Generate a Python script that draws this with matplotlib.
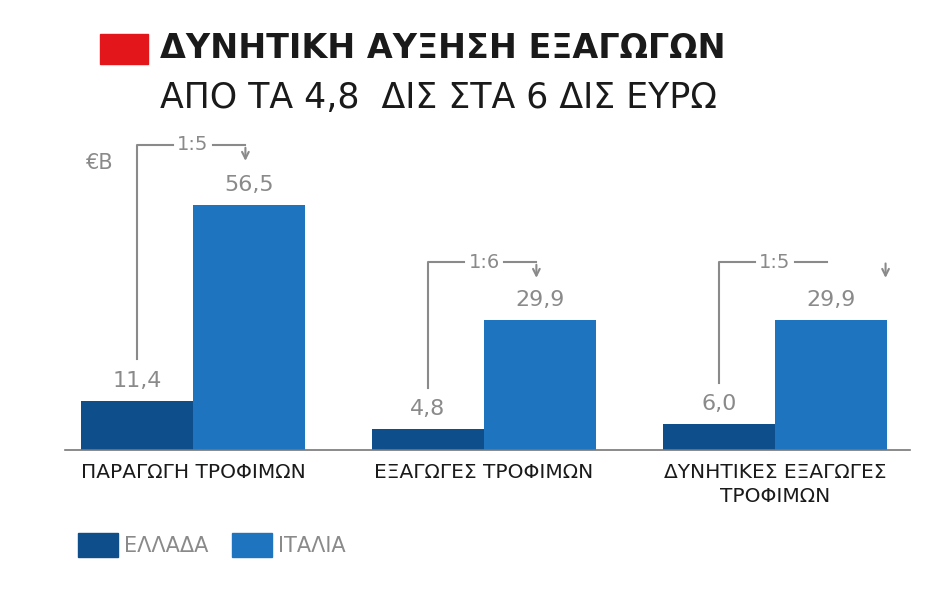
import matplotlib.pyplot as plt
from matplotlib.patches import Rectangle

categories = ['ΠΑΡΑΓΩΓΗ ΤΡΟΦΙΜΩΝ', 'ΕΞΑΓΩΓΕΣ ΤΡΟΦΙΜΩΝ', 'ΔΥΝΗΤΙΚΕΣ ΕΞΑΓΩΓΕΣ\nΤΡΟΦΙΜΩΝ']
greece = [11.4, 4.8, 6.0]
italy = [56.5, 29.9, 29.9]
ratios = ['1:5', '1:6', '1:5']
series_names = ['ΕΛΛΑΔΑ', 'ΙΤΑΛΙΑ']

GR_COL = '#0e4e8a'
IT_COL = '#1f74bf'
GRAY = '#8a8a8a'
plt.rcParams['font.family'] = ['DejaVu Sans']

W, H = 940, 610
fig = plt.figure(figsize=(W / 100, H / 100), dpi=100)

def fx(px): return px / W
def fy(py): return 1 - py / H

# title
fig.patches.append(Rectangle((fx(100), fy(64)), 48 / W, 30 / H, color='#e3171b', transform=fig.transFigure))
fig.text(fx(160), fy(48), 'ΔΥΝΗΤΙΚΗ ΑΥΞΗΣΗ ΕΞΑΓΩΓΩΝ', fontsize=24, fontweight='bold', color='#1a1a1a', va='center')
fig.text(fx(160), fy(98), 'ΑΠΟ ΤΑ 4,8  ΔΙΣ ΣΤΑ 6 ΔΙΣ ΕΥΡΩ', fontsize=25, color='#1a1a1a', va='center')

# axes: baseline at y=450px, 4.34 px per unit
ax = fig.add_axes([fx(65), fy(450), (910 - 65) / W, 320 / H])
pxu = 4.34
ax.set_ylim(0, 320 / pxu)
ax.set_xlim(-0.44, 2.464)
bw = 0.385
x = range(len(categories))
ax.bar([i - bw / 2 for i in x], greece, bw, color=GR_COL)
ax.bar([i + bw / 2 for i in x], italy, bw, color=IT_COL)
for s in ['top', 'right', 'left']:
    ax.spines[s].set_visible(False)
ax.spines['bottom'].set_color('#777777')
ax.spines['bottom'].set_linewidth(1.2)
ax.set_yticks([])
ax.set_xticks(list(x))
ax.set_xticklabels(categories, fontsize=14.5, color='#1a1a1a', linespacing=1.35)
ax.tick_params(axis='x', length=0, pad=9)

for i in x:
    ax.text(i - bw / 2, greece[i] + 2.3, f'{greece[i]:.1f}'.replace('.', ','), ha='center', va='bottom', fontsize=16, color=GRAY)
    ax.text(i + bw / 2, italy[i] + 2.3, f'{italy[i]:.1f}'.replace('.', ','), ha='center', va='bottom', fontsize=16, color=GRAY)

def u(py): return (450 - py) / pxu

# brackets
tops = [145, 262, 262]
for i in x:
    xl = i - bw / 2
    xr = i + 0.18
    yt = u(tops[i])
    yb = greece[i] + 9.5
    ax.plot([xl, xl, i - 0.07], [yb, yt, yt], color=GRAY, lw=1.5, clip_on=False)
    ax.plot([i + 0.07, xr], [yt, yt], color=GRAY, lw=1.5, clip_on=False)
    ax.text(i, yt, ratios[i], ha='center', va='center', fontsize=14, color=GRAY)
    ax_x = xr if i < 2 else i + 0.38
    ax.annotate('', xy=(ax_x, yt - 4.3), xytext=(ax_x, yt if i < 2 else yt + 0.3),
                arrowprops=dict(arrowstyle='->', color=GRAY, lw=1.5, mutation_scale=12), annotation_clip=False)
ax.text(-0.32, u(163), '€B', ha='center', va='center', fontsize=15, color=GRAY)

# legend
for px0, col, name in [(78, GR_COL, series_names[0]), (232, IT_COL, series_names[1])]:
    fig.patches.append(Rectangle((fx(px0), fy(557)), 40 / W, 24 / H, color=col, transform=fig.transFigure))
    fig.text(fx(px0 + 46), fy(546), name, fontsize=15, color=GRAY, va='center')

fig.savefig('out.png', dpi=100)
